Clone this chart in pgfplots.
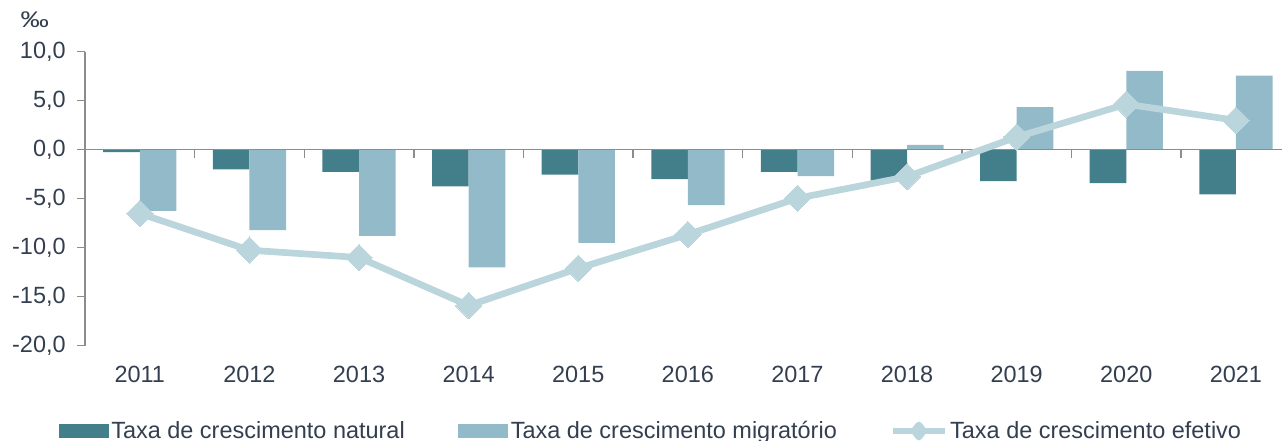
\documentclass[border=0pt]{standalone}
\usepackage{pgfplots}
\pgfplotsset{compat=1.18}
\usepackage{pgfplotstable}
\usepackage{fontspec}
\setmainfont{Liberation Sans}

\definecolor{natcol}{HTML}{437E8B}
\definecolor{migcol}{HTML}{93BAC8}
\definecolor{efecol}{HTML}{BBD5DC}
\definecolor{txtcol}{HTML}{333F50}
\definecolor{axcol}{HTML}{8C8C8C}

% taxas em permilagem
\pgfplotstableread{
ano  natural migratorio efetivo
2011 -0.25   -6.25      -6.5
2012 -2.0    -8.2       -10.25
2013 -2.25   -8.8       -11.0
2014 -3.75   -12.0      -15.9
2015 -2.55   -9.5       -12.1
2016 -3.0    -5.65      -8.65
2017 -2.25   -2.7       -4.95
2018 -3.15   0.5        -2.75
2019 -3.2    4.35       1.3
2020 -3.4    8.05       4.65
2021 -4.55   7.55       3.0
}\taxas

\newcommand{\txtfont}{\fontsize{17.6}{20}\selectfont}

\begin{document}
\begin{tikzpicture}
\begin{axis}[
  set layers=standard,
  at={(63.75pt,-259.3pt)}, anchor=south west,
  width=897.75pt, height=220.5pt, scale only axis,
  xmin=2010.5, xmax=2021.42, ymin=-20, ymax=10,
  axis x line*=middle, axis y line*=left,
  axis line style={axcol, line width=1.1pt},
  tick align=outside,
  major tick length=6pt,
  tick style={axcol, line width=1pt},
  xtick={2011.5,2012.5,...,2020.5}, xticklabels={},
  extra x ticks={2011,2012,...,2021},
  extra x tick labels={2011,2012,2013,2014,2015,2016,2017,2018,2019,2020,2021},
  extra x tick style={major tick length=0pt, tick label style={yshift=-158.5pt}},
  ytick={-20,-15,...,10},
  yticklabel style={xshift=-5pt, /pgf/number format/.cd, fixed, fixed zerofill, precision=1, use comma, assume math mode=true},
  tick label style={font=\txtfont, text=txtcol},
  ylabel={\fontsize{17}{20}\selectfont\scalebox{1.25}[1]{‰}},
  every axis y label/.style={at={(axis description cs:-0.042,1.081)}, anchor=base, text=txtcol},
  legend style={at={(axis description cs:0.473,-0.29)}, anchor=center, draw=none, fill=none,
    font=\txtfont, text=txtcol, legend columns=3,
    /tikz/every even column/.append style={column sep=38pt}},
  legend cell align=left,
]
\addplot[ybar, bar width=0.334, bar shift=-0.167, fill=natcol, draw=none, on layer=axis background,
  legend image code/.code={\fill[natcol] (0pt,-5pt) rectangle (37.5pt,5pt);}]
  table[x=ano, y=natural]{\taxas};
\addlegendentry{Taxa de crescimento natural}
\addplot[ybar, bar width=0.334, bar shift=0.167, fill=migcol, draw=none, on layer=axis background,
  legend image code/.code={\fill[migcol] (0pt,-5pt) rectangle (37.5pt,5pt);}]
  table[x=ano, y=migratorio]{\taxas};
\addlegendentry{Taxa de crescimento migratório}
\addplot[efecol, line width=5pt, line join=round, mark=square*, mark size=7pt,
  mark options={rotate=45, solid, fill=efecol, draw=efecol, line width=0pt}, on layer=axis foreground,
  legend image code/.code={
    \draw[efecol, line width=4pt] (0pt,0pt) -- (39pt,0pt);
    \fill[efecol] (19.5pt,4.5pt) -- (23pt,0pt) -- (19.5pt,-4.5pt) -- (16pt,0pt) -- cycle;}]
  table[x=ano, y=efetivo]{\taxas};
\addlegendentry{Taxa de crescimento efetivo}
\end{axis}
\pgfresetboundingbox
\path[use as bounding box] (0,0) rectangle (961.5pt,-330.75pt);
\end{tikzpicture}
\end{document}
